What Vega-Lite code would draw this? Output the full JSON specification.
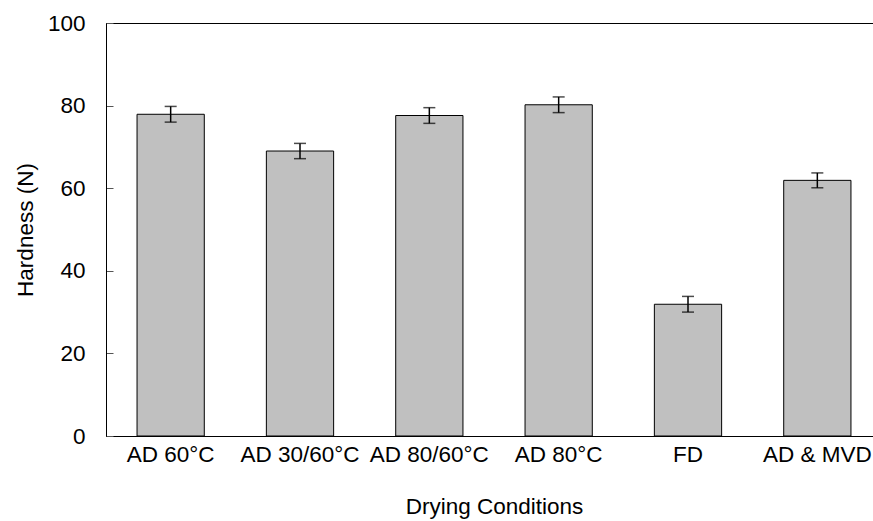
{
  "$schema": "https://vega.github.io/schema/vega-lite/v6.json",
  "autosize": "none",
  "padding": {"left": 106, "top": 23, "right": 0, "bottom": 85},
  "width": 776,
  "height": 413,
  "background": "white",
  "config": {
    "view": {"stroke": "black", "strokeWidth": 1},
    "font": "Liberation Sans",
    "axis": {"labelFont": "Liberation Sans", "titleFont": "Liberation Sans", "labelFontSize": 22.5, "titleFontSize": 22.5, "labelColor": "black", "titleColor": "black", "titleFontWeight": "normal", "grid": false, "domainColor": "black", "domainWidth": 1}
  },
  "data": {
    "values": [
      {"cond": "AD 60°C", "hardness": 77.9, "sd": 1.9},
      {"cond": "AD 30/60°C", "hardness": 69.0, "sd": 1.85},
      {"cond": "AD 80/60°C", "hardness": 77.6, "sd": 1.9},
      {"cond": "AD 80°C", "hardness": 80.2, "sd": 1.9},
      {"cond": "FD", "hardness": 31.9, "sd": 1.9},
      {"cond": "AD & MVD", "hardness": 61.9, "sd": 1.8}
    ]
  },
  "encoding": {
    "x": {
      "field": "cond", "type": "nominal", "sort": null,
      "scale": {"paddingInner": 0.48, "paddingOuter": 0.24},
      "axis": {"title": "Drying Conditions", "labelAngle": 0, "ticks": false, "labelPadding": 7, "titlePadding": 30}
    }
  },
  "layer": [
    {
      "mark": {"type": "bar", "color": "#c0c0c0", "stroke": "black", "strokeWidth": 1},
      "encoding": {
        "y": {
          "field": "hardness", "type": "quantitative",
          "scale": {"domain": [0, 100], "nice": false},
          "title": "Hardness (N)",
          "axis": {"title": "Hardness (N)", "values": [0, 20, 40, 60, 80, 100], "tickSize": -7, "tickColor": "#555", "labelPadding": 28, "titlePadding": 10}
        }
      }
    },
    {
      "mark": {"type": "errorbar", "color": "black", "thickness": 1.5, "ticks": {"size": 12, "thickness": 1.5, "color": "black"}},
      "encoding": {
        "y": {"field": "hardness", "type": "quantitative", "title": "Hardness (N)"},
        "yError": {"field": "sd"}
      }
    }
  ]
}
